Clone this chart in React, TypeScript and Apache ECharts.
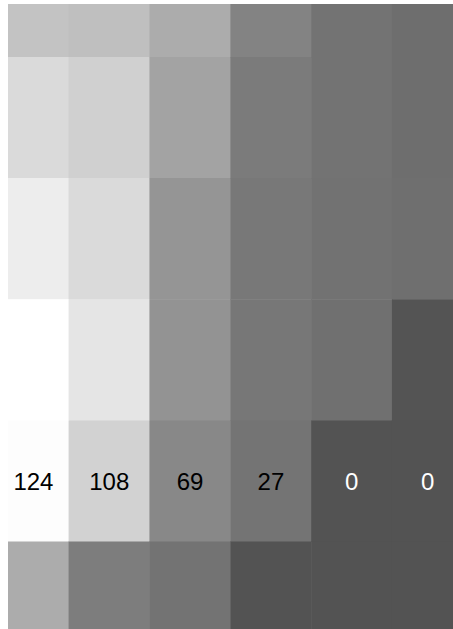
import React, { useEffect, useRef } from "react";
import * as echarts from "echarts";

// Column and row categories
const columns = ["c0", "c1", "c2", "c3", "c4", "c5"];
const rows = ["r0", "r1", "r2", "r3", "r4", "r5"];

// Cell values, one array per row (top to bottom)
const row0 = [100, 98, 88, 58, 26, 22];
const row1 = [111, 107, 83, 42, 26, 22];
const row2 = [118, 111, 76, 35, 25, 23];
const row3 = [125, 115, 75, 33, 24, 1];
const row4 = [124, 108, 69, 27, 0, 0];
const row5 = [88, 46, 26, 0, 0, 0];
const gridValues = [row0, row1, row2, row3, row4, row5];

// Row whose values are printed
const labelledRow = 4;

// Grey ramp anchors (value -> grey level)
const rampValues = [0, 27, 69, 108, 124, 125];
const rampGreys = [83, 116, 136, 210, 253, 255];

function greyFor(v: number): string {
  let g = rampGreys[rampGreys.length - 1];
  for (let i = 0; i < rampValues.length - 1; i++) {
    if (v >= rampValues[i] && v <= rampValues[i + 1]) {
      const t = (v - rampValues[i]) / (rampValues[i + 1] - rampValues[i]);
      g = rampGreys[i] + t * (rampGreys[i + 1] - rampGreys[i]);
      break;
    }
  }
  const h = Math.round(g).toString(16).padStart(2, "0");
  return "#" + h + h + h;
}

export default function App() {
  const ref = useRef<HTMLDivElement>(null);

  useEffect(() => {
    if (!ref.current) return;
    const chart = echarts.init(ref.current, undefined, { renderer: "svg" });

    const maxV = rampValues[rampValues.length - 1];
    const ramp: string[] = [];
    for (let v = 0; v <= maxV; v++) ramp.push(greyFor(v));

    const data: any[] = [];
    gridValues.forEach((row, r) => {
      row.forEach((v, c) => {
        const item: any = { value: [c, r, v] };
        if (r === labelledRow) {
          item.label = {
            show: true,
            color: v > 10 ? "#000000" : "#ffffff",
            offset: c === 0 ? [5, 0] : c === columns.length - 1 ? [-5, 0] : [0, 0],
          };
        }
        data.push(item);
      });
    });

    chart.setOption({
      animation: false,
      grid: { left: 0, right: 0, top: 0, bottom: 0 },
      xAxis: { type: "category", data: columns, show: false },
      yAxis: { type: "category", data: rows, inverse: true, show: false },
      visualMap: {
        show: false,
        type: "continuous",
        min: 0,
        max: maxV,
        dimension: 2,
        inRange: { color: ramp },
      },
      series: [
        {
          type: "heatmap",
          data,
          label: {
            show: false,
            fontFamily: "Liberation Sans, Arial, sans-serif",
            fontSize: 24,
            formatter: (p: any) => String(p.value[2]),
          },
          itemStyle: { borderWidth: 0 },
          emphasis: { disabled: true },
        },
      ],
    });

    return () => chart.dispose();
  }, []);

  return (
    <div
      style={{
        position: "absolute",
        left: 8,
        top: 4,
        width: 445,
        height: 625,
        overflow: "hidden",
      }}
    >
      <div
        ref={ref}
        style={{ position: "absolute", left: -20, top: -68, width: 485, height: 727 }}
      />
    </div>
  );
}
